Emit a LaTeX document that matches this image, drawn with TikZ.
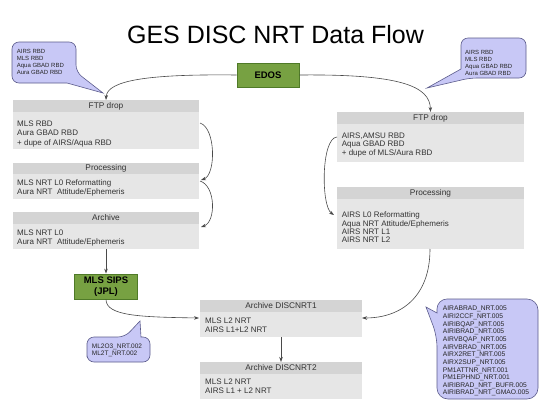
\documentclass[tikz,border=0pt]{standalone}
\usepackage{fontspec}
\setmainfont{Liberation Sans}
\usetikzlibrary{arrows.meta,calc}
\definecolor{hdrgray}{HTML}{D4D4D4}
\definecolor{bodygray}{HTML}{E6E6E6}
\definecolor{sipsgreen}{HTML}{77A142}
\definecolor{sipsborder}{HTML}{4F7A28}
\definecolor{callfill}{HTML}{C8C8F6}
\definecolor{callborder}{HTML}{5C5C8C}
\definecolor{arrowgray}{HTML}{4A4A4A}
\begin{document}
\begin{tikzpicture}[x=1pt,y=-1pt,
  hdr/.style={fill=hdrgray, anchor=north west, inner sep=0pt, outer sep=0pt, font=\fontsize{8.3}{10}\selectfont, text=black!80},
  bodybox/.style={fill=bodygray, anchor=north west, inner sep=0pt, outer sep=0pt},
  bodytext/.style={anchor=north west, inner sep=0pt, align=left, text=black!80},
  lefttext/.style={bodytext, font=\fontsize{8}{9.2}\selectfont},
  righttext/.style={bodytext, font=\fontsize{8}{8.4}\selectfont},
  greenbox/.style={draw=sipsborder, fill=sipsgreen, line width=0.8pt, inner sep=0pt, align=center, font=\bfseries\fontsize{9.5}{11}\selectfont},
  conn/.style={draw=arrowgray, line width=0.6pt, -{Stealth[length=5pt,width=3.5pt]}},
  callout/.style={draw=callborder, fill=callfill, line width=0.6pt},
  callouttext/.style={anchor=north west, inner sep=0pt, align=left, text=black!85}
]
\fill[white] (0,0) rectangle (550,413);
\useasboundingbox (0,0) rectangle (550,413);

% title
\node[anchor=base, inner sep=0pt, font=\fontsize{25}{30}\selectfont] (title) at (275.5,43) {GES DISC NRT Data Flow};

% EDOS
\node[greenbox, minimum width=62, minimum height=24] (edos) at (268,75) {EDOS};

% left column
\node[hdr, minimum width=186, minimum height=12] (lftpH) at (13,100) {FTP drop};
\node[bodybox, minimum width=186, minimum height=37] (lftpB) at (13,112) {};
\node[lefttext] (lftpT) at (17,121) {MLS RBD\\Aura GBAD RBD\\+ dupe of AIRS/Aqua RBD};

\node[hdr, minimum width=186, minimum height=11] (lprocH) at (13,163) {Processing};
\node[bodybox, minimum width=186, minimum height=25] (lprocB) at (13,174) {};
\node[lefttext] (lprocT) at (17,179.3) {MLS NRT L0 Reformatting\\Aura NRT\ \ Attitude/Ephemeris};

\node[hdr, minimum width=186, minimum height=12] (larchH) at (13,212) {Archive};
\node[bodybox, minimum width=186, minimum height=25] (larchB) at (13,224) {};
\node[lefttext] (larchT) at (17,229.5) {MLS NRT L0\\Aura NRT\ \ Attitude/Ephemeris};

\node[greenbox, minimum width=63, minimum height=25] (sips) at (106,286.5) {MLS SIPS\\(JPL)};

% right column
\node[hdr, minimum width=187, minimum height=12] (rftpH) at (337,112) {FTP drop};
\node[bodybox, minimum width=187, minimum height=38] (rftpB) at (337,124) {};
\node[righttext] (rftpT) at (341.7,132.7) {AIRS,AMSU RBD\\Aqua GBAD RBD\\+ dupe of MLS/Aura RBD};

\node[hdr, minimum width=187, minimum height=12] (rprocH) at (337,187) {Processing};
\node[bodybox, minimum width=187, minimum height=50] (rprocB) at (337,199) {};
\node[righttext] (rprocT) at (341.7,211.7) {AIRS L0 Reformatting\\Aqua NRT Attitude/Ephemeris\\AIRS NRT L1\\AIRS NRT L2};

% archives
\node[hdr, minimum width=162, minimum height=12] (d1H) at (200,300) {Archive DISCNRT1};
\node[bodybox, minimum width=162, minimum height=25] (d1B) at (200,312) {};
\node[lefttext] (d1T) at (205,317.3) {MLS L2 NRT\\AIRS L1+L2 NRT};

\node[hdr, minimum width=162, minimum height=12] (d2H) at (200,362) {Archive DISCNRT2};
\node[bodybox, minimum width=162, minimum height=25] (d2B) at (200,374) {};
\node[lefttext] (d2T) at (205,379) {MLS L2 NRT\\AIRS L1 + L2 NRT};

% connectors
\draw[conn] (edos.west) .. controls (150,74) and (107,80) .. (lftpH.north);
\draw[conn] (edos.east) .. controls (400,74) and (430,86) .. (rftpH.north);
\draw[conn] ($(lftpB.north east)+(1,11)$) .. controls (216,128) and (216,175) .. ($(lprocB.north east)+(2,6)$);
\draw[conn] ($(lprocB.north east)+(1,7)$) .. controls (216,186) and (216,222) .. ($(larchB.north east)+(2,3)$);
\draw[conn] (larchB.south) -- (sips.north);
\draw[conn] (sips.south) .. controls (106,316) and (140,317) .. ($(d1B.north west)+(-1,6)$);
\draw[conn] (d1B.south) -- (d2H.north);
\draw[conn] ($(rftpB.north west)+(0,13)$) .. controls (321,138) and (321,206) .. ($(rprocB.north west)+(-3,16)$);
\draw[conn] (rprocB.south -| 430,0) .. controls (430,296) and (402,318) .. ($(d1B.north east)+(0,6)$);

% callouts
\path[callout] (12,62) [rounded corners=7] -- (12,42) -- (76,42) -- (76,72) [sharp corners] -- (103,93) -- (67,83) [rounded corners=7] -- (12,83) -- cycle;
\node[callouttext, font=\fontsize{6}{7}\selectfont] (cTL) at (16.7,49) {AIRS RBD\\MLS RBD\\Aqua GBAD RBD\\Aura GBAD RBD};

\path[callout] (526,58) [rounded corners=7] -- (526,78) -- (470,78) [sharp corners] -- (427,88) -- (461,69) [rounded corners=7] -- (461,38) -- (526,38) -- cycle;
\node[callouttext, font=\fontsize{6}{7}\selectfont] (cTR) at (465,50) {AIRS RBD\\MLS RBD\\Aqua GBAD RBD\\Aura GBAD RBD};

\path[callout] (87,350) [rounded corners=7] -- (87,337) -- (125,337) [sharp corners] -- (140,321) -- (141,337) [rounded corners=7] -- (150,337) -- (150,362) -- (87,362) -- cycle;
\node[callouttext, font=\fontsize{6.5}{7.4}\selectfont] (cBL) at (91.7,343.3) {ML2O3\_NRT.002\\ML2T\_NRT.002};

\path[callout] (487,299) [rounded corners=11] -- (538,299) -- (538,399) -- (437,399) -- (437,336) [sharp corners] -- (426,307) -- (437,313) [rounded corners=10] -- (437,299) -- cycle;
\node[callouttext, font=\fontsize{6.7}{7.64}\selectfont] (cBR) at (442.7,306) {AIRABRAD\_NRT.005\\AIRI2CCF\_NRT.005\\AIRIBQAP\_NRT.005\\AIRIBRAD\_NRT.005\\AIRVBQAP\_NRT.005\\AIRVBRAD\_NRT.005\\AIRX2RET\_NRT.005\\AIRX2SUP\_NRT.005\\PM1ATTNR\_NRT.001\\PM1EPHND\_NRT.001\\AIRIBRAD\_NRT\_BUFR.005\\AIRIBRAD\_NRT\_GMAO.005};
\end{tikzpicture}
\end{document}
